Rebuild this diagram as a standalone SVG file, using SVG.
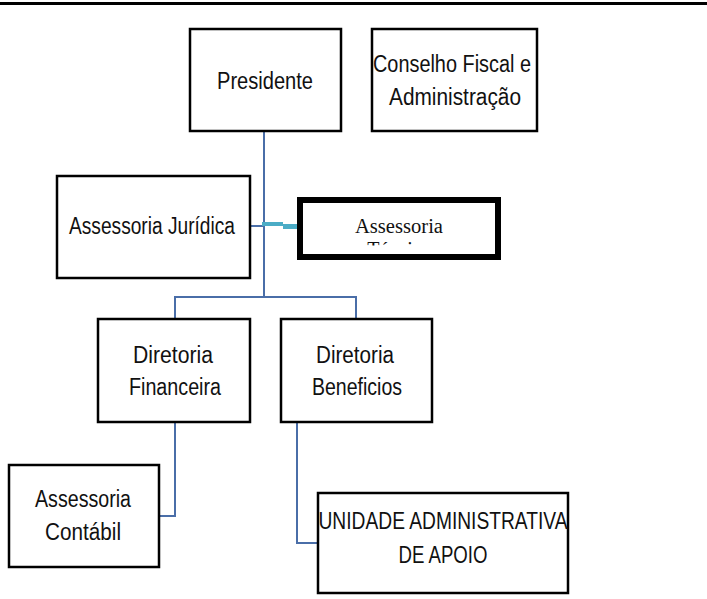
<svg xmlns="http://www.w3.org/2000/svg" width="707" height="599" viewBox="0 0 707 599">
<style>
.box{fill:#fff;stroke:#000;stroke-width:2.5}
.t{font-family:"Liberation Sans",Arial,sans-serif;font-size:23.5px;fill:#111;text-anchor:middle}
.ts{font-family:"Liberation Serif","Times New Roman",serif;font-size:20px;fill:#111;text-anchor:middle}
.c{fill:none;stroke:#4a6ea8;stroke-width:2}
</style>
<defs>
<clipPath id="clipTec"><rect x="303" y="203" width="192" height="42.5"/></clipPath>
</defs>
<rect x="0" y="0" width="707" height="599" fill="#fff"/>
<line x1="0" y1="3.5" x2="707" y2="3.5" stroke="#000" stroke-width="3"/>
<g id="connectors">
<polyline class="c" points="264,131 264,297"/>
<polyline class="c" points="175,319 175,297 356,297 356,319"/>
<polyline class="c" points="250,226 264,226"/>
<polyline class="c" points="175,422 175,516 159,516"/>
<polyline class="c" points="297,422 297,543 318,543"/>
<path d="M262,222 H283 V224 H298 V229 H283 V226 H262 Z" fill="#4bacc6"/>
</g>
<g id="presidente">
<rect class="box" x="190" y="29" width="151" height="102"/>
<text class="t" x="265" y="89" textLength="96" lengthAdjust="spacingAndGlyphs">Presidente</text>
</g>
<g id="conselho">
<rect class="box" x="372" y="29" width="165" height="102"/>
<text class="t" x="452" y="72" textLength="158" lengthAdjust="spacingAndGlyphs">Conselho Fiscal e</text>
<text class="t" x="455" y="105" textLength="132" lengthAdjust="spacingAndGlyphs">Administração</text>
</g>
<g id="juridica">
<rect class="box" x="57" y="176" width="193" height="102"/>
<text class="t" x="152" y="234" textLength="166" lengthAdjust="spacingAndGlyphs">Assessoria Jurídica</text>
</g>
<g id="tecnica">
<rect x="300" y="200" width="198" height="57" fill="#fff" stroke="#000" stroke-width="6"/>
<text class="ts" x="399" y="233" textLength="88" lengthAdjust="spacingAndGlyphs">Assessoria</text>
<text class="ts" x="399" y="256" clip-path="url(#clipTec)">Técnica</text>
</g>
<g id="financeira">
<rect class="box" x="98" y="319" width="152" height="103"/>
<text class="t" x="173" y="363" textLength="80" lengthAdjust="spacingAndGlyphs">Diretoria</text>
<text class="t" x="175" y="395" textLength="92" lengthAdjust="spacingAndGlyphs">Financeira</text>
</g>
<g id="beneficios">
<rect class="box" x="281" y="319" width="151" height="103"/>
<text class="t" x="355" y="363" textLength="78" lengthAdjust="spacingAndGlyphs">Diretoria</text>
<text class="t" x="357" y="395" textLength="90" lengthAdjust="spacingAndGlyphs">Beneficios</text>
</g>
<g id="contabil">
<rect class="box" x="9" y="465" width="150" height="102"/>
<text class="t" x="83" y="507" textLength="96" lengthAdjust="spacingAndGlyphs">Assessoria</text>
<text class="t" x="83" y="540" textLength="76" lengthAdjust="spacingAndGlyphs">Contábil</text>
</g>
<g id="unidade">
<rect class="box" x="318" y="493" width="250" height="100"/>
<text class="t" x="443" y="529" textLength="249" lengthAdjust="spacingAndGlyphs">UNIDADE ADMINISTRATIVA</text>
<text class="t" x="443" y="563" textLength="89" lengthAdjust="spacingAndGlyphs">DE APOIO</text>
</g>
</svg>
